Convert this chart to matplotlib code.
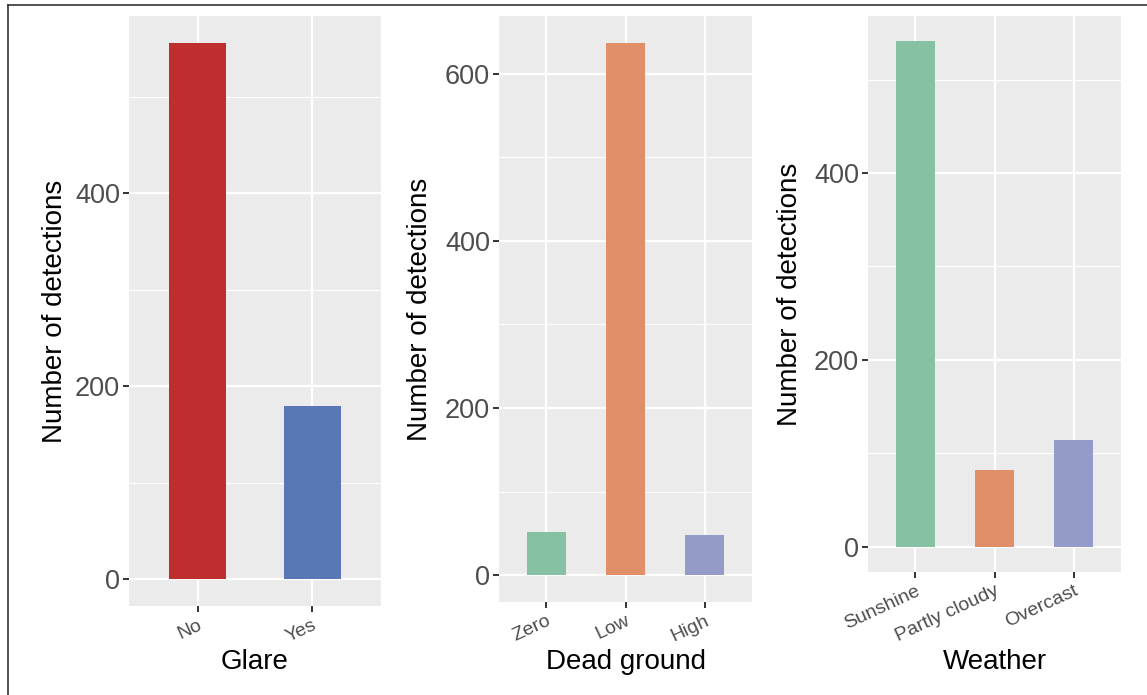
import matplotlib

matplotlib.use("Agg")
import matplotlib.pyplot as plt
from matplotlib.lines import Line2D
from matplotlib.ticker import MultipleLocator

plt.rcParams["font.family"] = ["Liberation Sans", "DejaVu Sans"]

# Detection counts by condition
glare_labels = ["No", "Yes"]
glare_counts = [556, 180]
glare_colors = ["#BF2D2F", "#5A77B5"]

dead_labels = ["Zero", "Low", "High"]
dead_counts = [52, 637, 48]

weather_labels = ["Sunshine", "Partly cloudy", "Overcast"]
weather_counts = [541, 82, 114]

set2_colors = ["#87C1A4", "#E08F68", "#959BC8"]

W, H = 1147, 695
fig = plt.figure(figsize=(W / 100, H / 100), dpi=100)

TICK_GREY = "#4D4D4D"
PANEL_BG = "#EBEBEB"


def px_axes(x0, x1, y0, y1):
    """Create axes from pixel edges (origin top-left)."""
    return fig.add_axes([x0 / W, 1 - y1 / H, (x1 - x0) / W, (y1 - y0) / H])


def draw_panel(box, labels, counts, colors, xlabel, ytitle_x, xtitle_y=662):
    ax = px_axes(*box)
    pos = list(range(1, len(labels) + 1))
    ax.bar(pos, counts, width=0.5, color=colors, zorder=2)

    top = max(counts)
    ax.set_ylim(-0.05 * top, 1.05 * top)
    ax.set_xlim(0.4, len(labels) + 0.6)

    ax.set_facecolor(PANEL_BG)
    for sp in ax.spines.values():
        sp.set_visible(False)
    ax.set_axisbelow(True)

    ax.yaxis.set_major_locator(MultipleLocator(200))
    ax.yaxis.set_minor_locator(MultipleLocator(100))
    ax.grid(which="major", color="white", linewidth=1.6)
    ax.grid(which="minor", axis="y", color="white", linewidth=0.8)

    ax.set_xticks(pos)
    ax.set_xticklabels(labels, rotation=25, ha="right", rotation_mode="anchor",
                       fontsize=14, color=TICK_GREY)
    ax.tick_params(axis="both", which="major", length=4.5, width=1.4,
                   color="#333333", pad=3)
    ax.tick_params(axis="y", labelsize=19.5, labelcolor=TICK_GREY, pad=2)
    ax.tick_params(axis="y", which="minor", length=0)

    x0, x1, y0, y1 = box
    fig.text(ytitle_x / W, 1 - ((y0 + y1) / 2) / H, "Number of detections",
             rotation=90, ha="center", va="center", fontsize=20)
    fig.text(((x0 + x1) / 2) / W, 1 - xtitle_y / H, xlabel,
             ha="center", va="center", fontsize=20)
    return ax


draw_panel((129, 381, 16, 606), glare_labels, glare_counts, glare_colors,
           "Glare", 55)
draw_panel((499, 752, 16, 602), dead_labels, dead_counts, set2_colors,
           "Dead ground", 420)
draw_panel((868, 1121, 16, 572), weather_labels, weather_counts, set2_colors,
           "Weather", 790)

# Frame lines along the top and left edge
fig.add_artist(Line2D([8 / W, 1.0], [1 - 5 / H, 1 - 5 / H],
                      transform=fig.transFigure, color="#333333", linewidth=1.2))
fig.add_artist(Line2D([8 / W, 8 / W], [0.0, 1 - 5 / H],
                      transform=fig.transFigure, color="#333333", linewidth=1.2))

fig.savefig("out.png", dpi=100)
